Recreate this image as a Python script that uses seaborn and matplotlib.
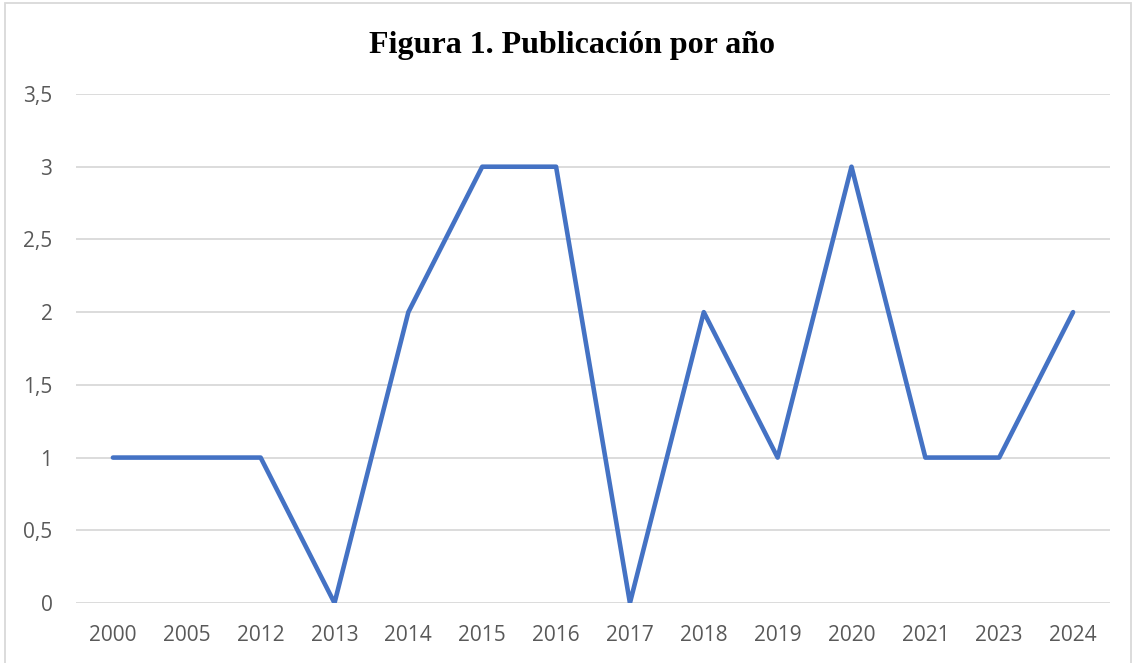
import matplotlib
matplotlib.use("Agg")
import matplotlib.pyplot as plt
import seaborn as sns
import pandas as pd
from matplotlib.patches import Rectangle

# Data
years = ["2000", "2005", "2012", "2013", "2014", "2015", "2016",
         "2017", "2018", "2019", "2020", "2021", "2023", "2024"]
counts = [1, 1, 1, 0, 2, 3, 3, 0, 2, 1, 3, 1, 1, 2]
yticks = [0, 0.5, 1, 1.5, 2, 2.5, 3, 3.5]
ytick_labels = ["0", "0,5", "1", "1,5", "2", "2,5", "3", "3,5"]

df = pd.DataFrame({"Año": years, "Publicaciones": counts})

sns.set_style("white")
plt.rcParams['font.family'] = ['Open Sans', 'DejaVu Sans']

fig = plt.figure(figsize=(11.34, 6.63), dpi=100)
ax = fig.add_axes([76 / 1134, 1 - 603 / 663, (1110 - 76) / 1134, (603 - 94) / 663])

sns.lineplot(data=df, x="Año", y="Publicaciones", ax=ax, color="#4472C4",
             linewidth=3.3, sort=False)

ax.set_xlim(-0.5, len(years) - 0.5)
ax.set_ylim(0, 3.5)
ax.set_yticks(yticks)
ax.set_yticklabels(ytick_labels)
ax.yaxis.grid(True, color="#D9D9D9", linewidth=1.3)
ax.set_axisbelow(True)
for s in ax.spines.values():
    s.set_visible(False)
ax.tick_params(axis="both", length=0, labelsize=15, labelcolor="#595959")
ax.tick_params(axis="y", pad=17)
ax.tick_params(axis="x", pad=16)
ax.set_xlabel("")
ax.set_ylabel("")

fig.text(572 / 1134, 1 - 45 / 663, "Figura 1. Publicación por año", ha="center", va="center",
         fontsize=23, fontweight="bold", color="black",
         family=["Liberation Serif", "DejaVu Serif"])

# outer border of the chart box
fig.patches.append(Rectangle((5 / 1134, -0.05), (1131 - 5) / 1134, 1.05 - 3 / 663,
                             transform=fig.transFigure, fill=False,
                             edgecolor="#D9D9D9", linewidth=1.3))

fig.savefig("out.png", dpi=100)
